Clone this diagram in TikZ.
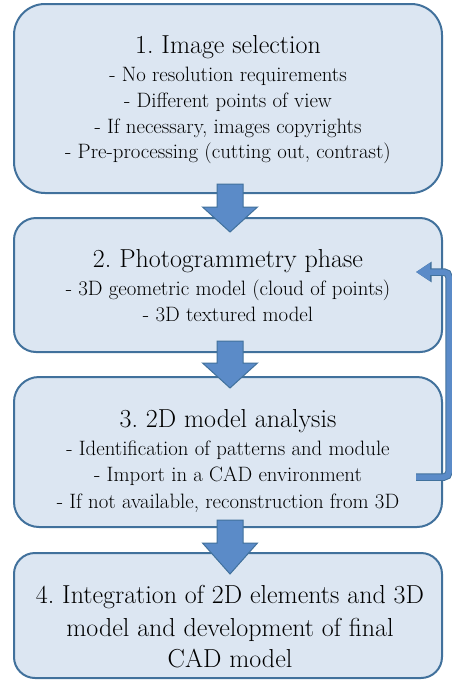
\documentclass[tikz,border=0pt]{standalone}
\usetikzlibrary{arrows.meta}
\definecolor{boxfill}{HTML}{DCE6F2}
\definecolor{boxline}{HTML}{41719C}
\definecolor{arrfill}{HTML}{5B8BC8}
\definecolor{arrline}{HTML}{41719C}
\tikzset{
  stagebox/.style={draw=boxline, fill=boxfill, line width=2pt, rectangle, inner sep=0pt, minimum width=428},
  ttl/.style={anchor=base, inner sep=0pt, font=\frenchspacing\fontsize{26}{30}\selectfont},
  sub/.style={anchor=base, inner sep=0pt, font=\frenchspacing\fontsize{20.8}{25}\selectfont},
  blk/.style={fill=arrfill, draw=arrline, line width=1pt, line join=miter},
  fbline/.style={line width=5.5pt, draw=arrfill, rounded corners=5pt,
    -{Triangle[width=17pt,length=14pt]},
    preaction={draw=arrline, line width=7.5pt, -{Triangle[width=19.5pt,length=15.5pt]}}},
}
\begin{document}
\begin{tikzpicture}[x=1pt,y=-1pt]
\useasboundingbox (0,0) rectangle (452,681);
\fill[white] (0,0) rectangle (452,681);
% boxes
\node[stagebox, rounded corners=31pt, minimum height=189] (b1) at (228,98.5) {};
\node[stagebox, rounded corners=22pt, minimum height=134] (b2) at (228,285) {};
\node[stagebox, rounded corners=25pt, minimum height=150] (b3) at (228,452) {};
\node[stagebox, rounded corners=21pt, minimum height=125] (b4) at (228,615.5) {};
% texts box 1
\node[ttl] (t1) at (228,53) {1. Image selection};
\node[sub] (t1a) at (228,81) {- No resolution requirements};
\node[sub] (t1b) at (228,107) {- Different points of view};
\node[sub] (t1c) at (228,133) {- If necessary, images copyrights};
\node[sub] (t1d) at (228,158) {- Pre-processing (cutting out, contrast)};
% texts box 2
\node[ttl] (t2) at (228,267) {2. Photogrammetry phase};
\node[sub] (t2a) at (228,295) {- 3D geometric model (cloud of points)};
\node[sub] (t2b) at (228,321) {- 3D textured model};
% texts box 3
\node[ttl] (t3) at (228,427) {3. 2D model analysis};
\node[sub] (t3a) at (228,455) {- Identification of patterns and module};
\node[sub] (t3b) at (228,481) {- Import in a CAD environment};
\node[sub] (t3c) at (228,508) {- If not available, reconstruction from 3D};
% texts box 4
\node[ttl] (t4a) at (230,603) {4. Integration of 2D elements and 3D};
\node[ttl] (t4b) at (230,636) {model and development of final};
\node[ttl] (t4c) at (230,667) {CAD model};
% block arrows
\coordinate (a1) at (230,184);
\coordinate (a2) at (230,341);
\coordinate (a3) at (230,520);
\draw[blk] (a1) ++(-13,0) -- ++(26,0) -- ++(0,23) -- ++(14.5,0) -- ++(-27.5,25) -- ++(-27.5,-25) -- ++(14.5,0) -- cycle;
\draw[blk] (a2) ++(-13,0) -- ++(26,0) -- ++(0,22) -- ++(14.5,0) -- ++(-27.5,25) -- ++(-27.5,-25) -- ++(14.5,0) -- cycle;
\draw[blk] (a3) ++(-13,0) -- ++(26,0) -- ++(0,23) -- ++(14.5,0) -- ++(-27.5,31) -- ++(-27.5,-31) -- ++(14.5,0) -- cycle;
% feedback arrow
\coordinate (fbs) at (416,477);
\coordinate (fbc) at (449,477);
\coordinate (fbe) at (416,272);
\draw[fbline] (fbs) -- (fbc) |- (fbe);
\end{tikzpicture}
\end{document}
